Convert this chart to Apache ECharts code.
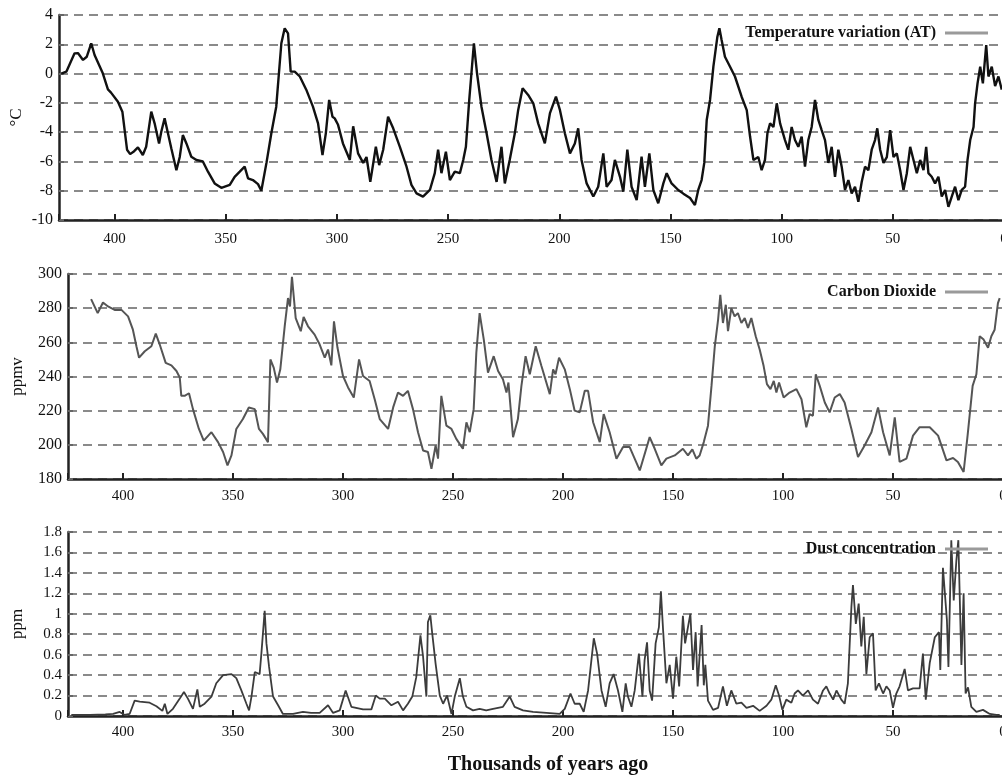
<!DOCTYPE html>
<html>
<head>
<meta charset="utf-8">
<script src="https://cdn.jsdelivr.net/npm/echarts@6/dist/echarts.min.js"></script>
<style>html,body{margin:0;padding:0;background:#fff}#c{width:1002px;height:780px}</style>
</head>
<body>
<div id="c"></div>
<script>
// ---- data: [thousands of years ago, value] ----
const xTicks = [400, 350, 300, 250, 200, 150, 100, 50, 0];
const tempName = 'Temperature variation (AT)';
const co2Name = 'Carbon Dioxide';
const dustName = 'Dust concentration';

const temperature = [
[424,0.0],[421.7,0.13],[418,1.38],[416.5,1.4],[414.2,0.93],[412.5,1.15],[410.5,2.07],[409,1.27],[405.3,0.02],[403,-1.08],[401.6,-1.3],[398.5,-1.92],[396.5,-2.6],[394.4,-5.2],[393,-5.5],[391.2,-5.3],[389.5,-5.04],[387.3,-5.56],[385.8,-5.0],[383.5,-2.6],[382,-3.4],[380,-4.77],[379,-3.97],[377.5,-3.06],[376,-4.08],[374.5,-5.1],[372.2,-6.6],[370.7,-5.7],[369.3,-4.2],[367.7,-4.77],[365.5,-5.68],[363.2,-5.9],[360.3,-6.0],[358,-6.7],[355,-7.5],[352,-7.8],[348.2,-7.6],[346,-7.05],[343.7,-6.7],[341.5,-6.36],[340,-7.15],[337.8,-7.27],[335.5,-7.55],[334,-8.0],[331.7,-6.1],[329.5,-4.08],[327.3,-2.26],[325,2.07],[323.5,3.09],[322,2.75],[320.8,0.13],[319,0.13],[316.7,-0.2],[313.8,-1.1],[310.8,-2.26],[308.5,-3.4],[306.5,-5.56],[305,-4.08],[303.5,-1.8],[302,-2.95],[301,-3.06],[299.5,-3.5],[297.3,-4.77],[294.2,-5.9],[292.7,-3.6],[290.5,-5.45],[288.2,-6.1],[286.7,-5.7],[285,-7.4],[282.5,-5.0],[281,-6.25],[279.2,-5.2],[277,-2.95],[274.7,-3.74],[271.7,-5.0],[268.7,-6.36],[266.5,-7.6],[264.2,-8.18],[261.3,-8.4],[258.2,-7.95],[256,-6.8],[254.5,-5.2],[253,-6.8],[251,-5.34],[249.2,-7.27],[247,-6.7],[244.7,-6.8],[243.2,-5.9],[242,-5.0],[240.5,-1.8],[238.4,2.07],[237,0.02],[235,-2.26],[232.7,-4.08],[230.5,-5.9],[228.2,-7.4],[226,-5.0],[224.5,-7.5],[222.3,-5.9],[220,-4.08],[218.5,-2.5],[216.5,-1.0],[214,-1.46],[211.7,-2.03],[209.5,-3.4],[206.5,-4.77],[204.2,-2.7],[201.5,-1.58],[199.7,-2.5],[197.5,-4.08],[195.2,-5.45],[193,-4.77],[191.5,-3.74],[190,-5.9],[187.7,-7.5],[184.7,-8.4],[182.5,-7.73],[180.2,-5.45],[178.7,-7.73],[176.5,-7.27],[175,-5.9],[172.7,-7.05],[171.2,-8.07],[169.4,-5.2],[167.5,-7.73],[165.2,-8.64],[163,-5.68],[161.5,-7.73],[159.5,-5.45],[157.7,-7.95],[155.5,-8.86],[153.2,-7.5],[151.7,-6.8],[149.5,-7.5],[146.5,-7.95],[144.2,-8.2],[141.2,-8.5],[139,-8.98],[137.5,-7.95],[136,-7.27],[134.8,-6.1],[133.7,-3.17],[132.2,-1.8],[130.7,0.47],[128.9,2.52],[128,3.09],[127,2.29],[125.5,1.15],[123.2,0.47],[121,-0.2],[118,-1.58],[115.7,-2.5],[114.2,-4.3],[112.7,-5.9],[110.5,-5.7],[109,-6.6],[107.5,-5.9],[106.4,-4.08],[105.2,-3.4],[103.7,-3.65],[102.2,-2.03],[100.7,-3.4],[98.5,-4.54],[97,-5.2],[95.5,-3.65],[94,-4.54],[92.5,-5.0],[91,-4.3],[89.5,-6.36],[88,-4.54],[86.5,-3.65],[85,-1.8],[83.5,-3.17],[82,-3.86],[80.5,-4.54],[79,-6.1],[77.5,-5.0],[76,-7.05],[74.5,-5.2],[73,-6.36],[71.5,-7.95],[70,-7.27],[68.5,-8.18],[67,-7.73],[65.5,-8.75],[64,-7.4],[62.5,-6.36],[61,-6.6],[59.5,-5.2],[58,-4.54],[57,-3.74],[55.7,-5.2],[54.2,-6.1],[52.7,-5.7],[51.2,-3.86],[49.7,-5.7],[48.2,-5.45],[46.7,-6.6],[45.2,-7.95],[43.7,-6.8],[42.2,-5.0],[40.7,-5.9],[39.2,-6.8],[37.7,-5.9],[36.2,-6.6],[35,-5.0],[34,-6.8],[32.5,-7.05],[31,-7.5],[29.5,-7.05],[28,-8.4],[26.5,-7.95],[25,-9.1],[23.5,-8.4],[22,-7.73],[20.5,-8.64],[19,-7.95],[17.5,-7.73],[16.4,-5.9],[15.2,-4.54],[13.7,-3.65],[13,-2.03],[11.9,-0.67],[10.7,0.47],[9.5,-0.67],[8,1.95],[7,-0.2],[5.5,0.47],[4,-0.86],[2.5,-0.2],[1,-1.1]
];

const co2 = [
[414.5,285.3],[411.5,277.1],[409.1,283.3],[406.8,281],[403.8,279],[400.7,279],[397.7,275.2],[395.5,267.4],[393.9,257.7],[392.7,251],[390.1,254.8],[387.1,257.7],[385.1,265.1],[383.3,258.7],[380.6,248],[378,246.5],[375.7,243.2],[374.2,239.4],[373.5,228.7],[372,228.7],[370,230.2],[368.2,220.9],[365.5,209.3],[363.3,202.5],[359.8,207.4],[356.8,201.6],[354.5,195.8],[352.5,188],[350.7,193.8],[348.5,209.3],[345.5,215.1],[342.8,221.9],[340.1,220.9],[338.2,209.3],[336.4,206.4],[334.1,201.6],[333,250],[331.5,245.2],[330,236.5],[328.5,244.2],[326.5,269.4],[325,285.9],[324.1,281],[323.2,298.4],[321.5,274.2],[319.2,266.5],[317.9,274.8],[315.9,269.4],[312.9,264.5],[310.6,258.7],[308.3,251],[306.8,255.8],[305.3,246.5],[304.1,272.3],[302.5,256.8],[300,240.3],[297.7,233.6],[295.1,227.7],[292.7,250],[290.9,240.3],[287.9,237.4],[285.6,226.7],[283.3,215.1],[279.5,209.3],[277.2,221.9],[275,230.6],[272.7,228.7],[270.5,231.6],[268.2,220.9],[265.9,207.4],[263.6,196.7],[261.4,195.8],[259.8,186],[257.9,199.6],[256.8,191.9],[255.3,228.7],[253,211.2],[250.7,209.3],[248.5,203.5],[245.5,197.7],[243.9,213.2],[242.4,207.4],[240.6,220.9],[239.4,253.9],[237.9,277.1],[236,261.6],[234.1,242.3],[231.5,251.9],[229.5,243.2],[227.3,238.4],[225.7,230.6],[224.8,236.5],[222.7,204.5],[220.5,215.1],[218.9,234.5],[217,251.9],[215.1,241.3],[212.4,257.7],[209.8,246.1],[206,229.7],[204.5,244.2],[203.4,241.3],[201.8,251],[199.2,244.2],[196.9,232.6],[194.7,220],[192.4,219],[190.1,231.6],[188.6,231.6],[186.3,213.2],[183.3,201.6],[181.5,218],[178.8,207.4],[175.7,191.9],[172.7,198.7],[169.7,198.7],[165.1,185],[160.6,204.5],[158.3,197.7],[155.3,188],[153,191.9],[149.2,193.8],[145.5,197.7],[143.2,193.8],[141.2,197.3],[139.4,191.9],[137.9,193.8],[136,201.6],[134.1,211.2],[132.5,234.5],[131,257.7],[129.5,273.3],[128.5,287.8],[127.3,271.3],[126,282],[125,266.5],[123.5,280],[122,275.2],[120.5,277.1],[118.9,271.3],[117.4,274.2],[115.9,268.4],[114.4,274.2],[112.4,263.6],[110.6,255.8],[108.8,246.1],[107.3,235.5],[105.7,232.6],[104.2,237.4],[103,230.6],[101.8,236.5],[99.7,227.7],[97,230.6],[93.9,232.6],[91.6,226.7],[89.4,210.3],[87.9,218],[86.4,217],[85.1,241.3],[83.3,234.5],[81,224.8],[78.8,219],[76.5,227.7],[74.2,229.7],[72,224.8],[68.9,209.3],[65.9,192.9],[62.9,199.6],[59.8,207.4],[56.8,221.9],[54.5,207.4],[51.5,193.8],[49.2,216.1],[47,190],[43.9,191.9],[40.9,205.4],[37.9,210.3],[33.3,210.3],[29.5,205.4],[25.7,190.9],[22.7,192.3],[20.5,190],[17.9,184.1],[16.1,205.4],[13.8,234.5],[12.1,241.3],[10.6,263.6],[8.8,261.6],[6.8,256.8],[5.3,263.6],[3.8,267.4],[2.3,283],[1.5,285.9]
];

const dust = [
[423.5,0.01],[415,0.01],[408,0.015],[404.5,0.02],[401.5,0.04],[399.2,0.01],[397,0.02],[394.7,0.15],[392.4,0.14],[387.9,0.13],[384.8,0.095],[382.1,0.05],[381,0.12],[379.8,0.02],[377.3,0.07],[374.2,0.17],[372.3,0.235],[370.5,0.17],[368.2,0.07],[366.2,0.26],[365.1,0.09],[362.9,0.12],[359.8,0.19],[357.6,0.32],[354.5,0.4],[350.7,0.41],[348.5,0.37],[346.2,0.25],[343.9,0.12],[342.7,0.055],[341.6,0.19],[340.1,0.43],[337.9,0.41],[337.1,0.61],[335.6,1.03],[334.8,0.71],[333.6,0.48],[331.8,0.19],[329.5,0.105],[327.3,0.02],[322.7,0.02],[318.2,0.04],[314.5,0.03],[310.6,0.03],[306.8,0.105],[304.5,0.03],[301.5,0.055],[298.8,0.25],[296.2,0.09],[290.9,0.065],[287.1,0.065],[285.1,0.2],[283.3,0.17],[281,0.17],[278,0.105],[275,0.14],[272.7,0.055],[270.5,0.12],[268.5,0.19],[266.7,0.38],[264.8,0.79],[263.6,0.58],[262.1,0.19],[261.4,0.92],[260.3,0.985],[259.4,0.8],[257.9,0.51],[256,0.2],[254.5,0.12],[252.7,0.2],[250.7,0.02],[249.2,0.19],[246.9,0.37],[245.5,0.19],[243.9,0.09],[240.9,0.055],[237.9,0.07],[234.9,0.055],[231.8,0.07],[227.3,0.09],[224.2,0.19],[222,0.09],[218.2,0.055],[213.6,0.04],[207.5,0.03],[201.5,0.02],[199.2,0.07],[196.6,0.22],[194.7,0.12],[192.4,0.12],[190.6,0.04],[188.6,0.25],[186,0.76],[184.5,0.61],[182.5,0.25],[180.6,0.09],[178.8,0.32],[177,0.41],[175,0.25],[173,0.04],[171.5,0.32],[170.5,0.19],[168.9,0.09],[167.4,0.25],[165.5,0.61],[163.9,0.19],[162.9,0.55],[161.8,0.72],[160.6,0.25],[159.5,0.15],[157.9,0.71],[156.4,0.87],[155.5,1.22],[154.5,0.84],[153,0.32],[151.5,0.5],[150,0.17],[148.5,0.58],[147.2,0.29],[145.5,0.98],[144.5,0.71],[143.2,0.87],[142.1,1.0],[140.9,0.45],[139.7,0.82],[138.8,0.29],[137,0.89],[136,0.3],[135.3,0.5],[134.1,0.15],[131.8,0.06],[129.5,0.08],[127.3,0.29],[125.5,0.1],[123.5,0.25],[121.2,0.12],[118.9,0.13],[116.6,0.08],[113.6,0.1],[110.6,0.05],[107.5,0.1],[105.3,0.16],[103.3,0.3],[101.8,0.2],[100.3,0.06],[98.5,0.16],[96.2,0.13],[94.7,0.22],[93.2,0.25],[91,0.2],[88.6,0.25],[86.4,0.16],[84.1,0.12],[81.8,0.25],[80.3,0.29],[78.8,0.22],[77.2,0.16],[75.7,0.25],[73.5,0.16],[72,0.12],[70.5,0.32],[68.9,1.07],[68.2,1.28],[66.9,0.9],[65.6,1.1],[64.4,0.68],[63.3,0.97],[62.1,0.41],[60.6,0.77],[59.1,0.81],[57.9,0.25],[56.4,0.32],[54.5,0.22],[53,0.29],[51.5,0.25],[50,0.08],[48.5,0.22],[47,0.29],[44.7,0.46],[43.2,0.25],[40.9,0.27],[37.9,0.27],[36.4,0.61],[35.1,0.16],[33.3,0.52],[31,0.77],[29.1,0.82],[28.5,0.45],[27.3,1.45],[25.5,0.94],[24.8,0.48],[23.5,1.72],[22.4,1.13],[21.2,1.52],[20.3,1.72],[18.9,0.5],[17.9,1.2],[17,0.22],[15.9,0.28],[14.4,0.09],[12.1,0.04],[9.1,0.06],[6,0.02],[3,0.01],[1.5,0.01]
];

// ---- chart ----
const FONT = '"Liberation Serif", "DejaVu Serif", serif';
const chart = echarts.init(document.getElementById('c'), null, {renderer: 'canvas'});

function xAxis(idx, margin) {
  return {
    type: 'value', gridIndex: idx, min: 0, max: 425, interval: 50, inverse: true,
    axisLine: {show: true, onZero: false, lineStyle: {color: '#222', width: 2.5}},
    axisTick: {show: true, inside: true, length: 6, lineStyle: {color: '#222', width: 2}},
    axisLabel: {color: '#111', fontFamily: FONT, fontSize: 15, margin: margin,
      formatter: v => (xTicks.indexOf(v) >= 0 ? String(v) : '')},
    splitLine: {show: false}
  };
}
function yAxis(idx, min, max, interval, name, gap, fs) {
  return {
    type: 'value', gridIndex: idx, min: min, max: max, interval: interval,
    name: name, nameLocation: 'middle', nameGap: gap, nameMoveOverlap: false,
    nameTextStyle: {color: '#111', fontFamily: FONT, fontSize: 17},
    axisLine: {show: true, onZero: false, lineStyle: {color: '#222', width: 2.5}},
    axisTick: {show: true, inside: true, length: 5, lineStyle: {color: '#666', width: 2}},
    axisLabel: {color: '#111', fontFamily: FONT, fontSize: fs, margin: 6},
    splitLine: {show: true, lineStyle: {type: [9, 6], color: '#8a8a8a', width: 1.8}}
  };
}
function legend(name, top) {
  return {
    data: [{name: name, icon: 'rect'}], right: 14, top: top, padding: 0, align: 'right',
    itemWidth: 43, itemHeight: 3, itemStyle: {color: '#9a9a9a'},
    textStyle: {fontFamily: FONT, fontSize: 16, fontWeight: 'bold', color: '#111', lineHeight: 18, padding: [0, 4, 0, 0]},
    selectedMode: false
  };
}

chart.setOption({
  animation: false,
  backgroundColor: '#fff',
  grid: [
    {left: 59, right: -2, top: 15, height: 205, outerBoundsMode: 'none', containLabel: false},
    {left: 68, right: -1, top: 274, height: 205, outerBoundsMode: 'none', containLabel: false},
    {left: 68, right: -1, top: 532, height: 184, outerBoundsMode: 'none', containLabel: false}
  ],
  xAxis: [xAxis(0, 12), xAxis(1, 10), xAxis(2, 9)],
  yAxis: [
    yAxis(0, -10, 4, 2, '°C', 34, 16),
    yAxis(1, 180, 300, 20, 'ppmv', 42, 16),
    yAxis(2, 0, 1.8, 0.2, 'ppm', 42, 15)
  ],
  legend: [legend(tempName, 24), legend(co2Name, 283), legend(dustName, 540)],
  series: [
    {name: tempName, type: 'line', xAxisIndex: 0, yAxisIndex: 0, data: temperature, showSymbol: false,
      lineStyle: {color: '#111', width: 2.4}, itemStyle: {color: '#111'}},
    {name: co2Name, type: 'line', xAxisIndex: 1, yAxisIndex: 1, data: co2, showSymbol: false,
      lineStyle: {color: '#555', width: 2}, itemStyle: {color: '#555'}},
    {name: dustName, type: 'line', xAxisIndex: 2, yAxisIndex: 2, data: dust, showSymbol: false,
      lineStyle: {color: '#3c3c3c', width: 1.8}, itemStyle: {color: '#3c3c3c'}}
  ],
  graphic: [{
    type: 'text', x: 548, y: 765,
    style: {text: 'Thousands of years ago', align: 'center', verticalAlign: 'middle',
      font: 'bold 20px "Liberation Serif", "DejaVu Serif", serif', fill: '#111'}
  }]
});
</script>
</body>
</html>
